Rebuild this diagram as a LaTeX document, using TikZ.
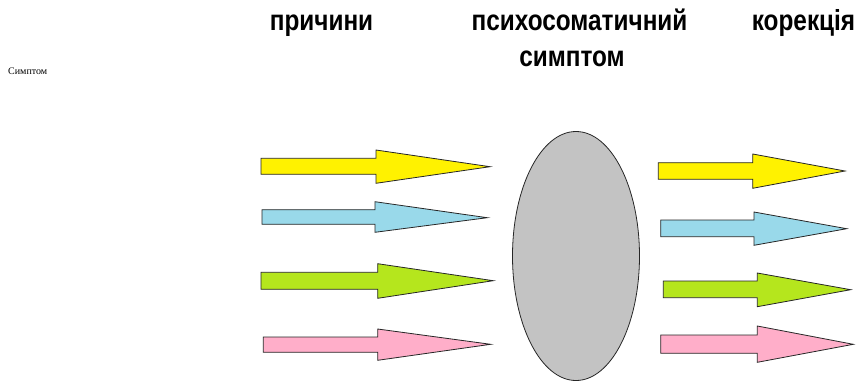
\documentclass[tikz,border=0pt]{standalone}
\usepackage{fontspec}
\usetikzlibrary{shapes.geometric}
\setmainfont{Liberation Sans}
\newfontfamily\headfont[FakeStretch=0.84]{Liberation Sans}
\newfontfamily\labelserif{Liberation Serif}
\definecolor{arrowyellow}{HTML}{FFF200}
\definecolor{arrowblue}{HTML}{99D9EA}
\definecolor{arrowgreen}{HTML}{B5E61D}
\definecolor{arrowpink}{HTML}{FFAEC9}
\definecolor{ovalgray}{HTML}{C3C3C3}
% block arrow: fill, shaft left x, shaft right x, shaft top y, shaft bottom y, head top y, head bottom y, tip x, tip y
\newcommand\blockarrow[9]{%
  \draw[blockline, fill=#1] (#2,#4) -- (#3,#4) -- (#3,#6) -- (#8,#9) -- (#3,#7) -- (#3,#5) -- (#2,#5) -- cycle;}
\tikzset{
  blockline/.style={draw=black!85, line width=0.8pt, line join=miter},
  heading/.style={font=\headfont\bfseries\fontsize{29}{34}\selectfont, anchor=base, inner sep=0pt},
}
\begin{document}
\begin{tikzpicture}[x=1pt, y=-1pt]
\useasboundingbox (0,0) rectangle (857,383);

% column headings
\node[heading] (causes) at (321.5,30) {причини};
\node[heading] (symptom) at (579.5,30) {психосоматичний};
\node[heading] (symptom2) at (572,66.5) {симптом};
\node[heading] (correction) at (803.5,30) {корекція};

% small caption
\node[anchor=base west, inner sep=0pt, font=\labelserif\fontsize{10}{11}\selectfont] (caption) at (8,74) {Симптом};

% central oval
\node[draw=black!85, line width=0.8pt, fill=ovalgray, ellipse, minimum width=127pt, minimum height=249pt, inner sep=0pt] (oval) at (576,256) {};

% incoming arrows (causes)
\blockarrow{arrowyellow}{261}{376}{158.3}{174.3}{150}{183.3}{490}{166.7}
\blockarrow{arrowblue}{262}{375}{209.7}{224.3}{201.7}{232.3}{487.3}{217.7}
\blockarrow{arrowgreen}{261}{377.7}{272.3}{289.3}{263.7}{298.3}{493.3}{280.7}
\blockarrow{arrowpink}{263.3}{377.7}{337}{352.3}{329}{360.3}{490.7}{344.3}

% outgoing arrows (correction)
\blockarrow{arrowyellow}{658.3}{752.7}{162.7}{179.3}{154}{188.3}{845}{171}
\blockarrow{arrowblue}{660.7}{754}{220}{236.7}{212}{245.3}{846.7}{228.7}
\blockarrow{arrowgreen}{663.3}{757.3}{281}{297.7}{273}{306.7}{850.7}{289.7}
\blockarrow{arrowpink}{660.7}{757.3}{335}{353.3}{326}{362.3}{853.3}{344.3}
\end{tikzpicture}
\end{document}
